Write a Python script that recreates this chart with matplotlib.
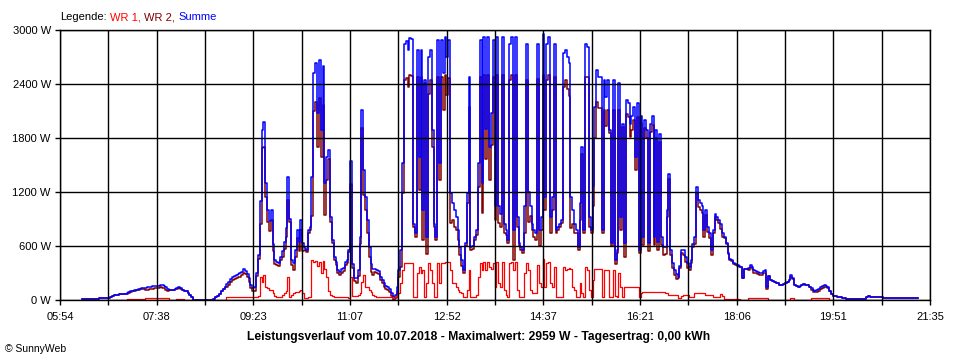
import numpy as np
import matplotlib
matplotlib.use("Agg")
from matplotlib import pyplot as plt

# samples every 2 minutes, starting 06:18 (minutes since midnight)
t_start = 378
t_step = 2

# WR 1 (W)
wr1 = [
    0, 0, 0, 0, 0, 0, 0, 0, 0, 0, 0, 0, 0, 0, 0,
    0, 0, 0, 0, 0, 0, 0, 0, 0, 8, 8, 8, 8, 8, 8,
    8, 8, 8, 8, 25, 25, 25, 25, 25, 25, 25, 25, 25, 25, 25,
    25, 25, 0, 0, 0, 0, 8, 8, 8, 8, 0, 0, 0, 0, 0,
    0, 0, 0, 0, 0, 0, 0, 0, 0, 0, 0, 0, 0, 0, 0,
    0, 0, 0, 35, 35, 35, 35, 35, 35, 35, 35, 35, 35, 35, 35,
    35, 35, 35, 35, 35, 40, 260, 200, 280, 150, 130, 110, 110, 80, 50,
    35, 35, 35, 60, 80, 100, 255, 35, 60, 80, 85, 90, 100, 110, 80,
    20, 20, 30, 35, 440, 420, 430, 380, 420, 300, 430, 350, 255, 100, 55,
    40, 35, 35, 35, 35, 35, 35, 35, 35, 25, 255, 40, 40, 50, 60,
    80, 200, 280, 150, 145, 110, 90, 60, 40, 35, 35, 35, 35, 35, 35,
    35, 35, 35, 35, 35, 60, 75, 185, 330, 410, 410, 410, 410, 410, 35,
    35, 300, 370, 300, 330, 35, 185, 410, 330, 185, 35, 35, 410, 185, 410,
    410, 425, 425, 425, 330, 185, 185, 150, 110, 90, 75, 35, 35, 110, 330,
    35, 35, 35, 60, 260, 410, 330, 425, 330, 425, 370, 350, 410, 150, 425,
    185, 150, 425, 110, 60, 35, 410, 425, 330, 425, 110, 35, 35, 35, 300,
    410, 330, 110, 75, 75, 75, 390, 185, 150, 460, 150, 410, 425, 185, 150,
    370, 35, 35, 35, 35, 370, 330, 350, 360, 350, 150, 110, 35, 35, 185,
    75, 35, 370, 330, 110, 35, 220, 350, 350, 350, 350, 35, 330, 330, 330,
    35, 35, 330, 50, 35, 300, 150, 35, 150, 150, 150, 150, 150, 150, 150,
    150, 35, 75, 90, 90, 90, 90, 90, 90, 90, 90, 90, 90, 90, 90,
    75, 75, 55, 55, 55, 55, 55, 20, 20, 40, 55, 55, 55, 35, 35,
    35, 75, 75, 75, 75, 75, 75, 55, 55, 55, 55, 35, 35, 35, 35,
    65, 40, 10, 10, 10, 10, 10, 10, 10, 10, 10, 0, 0, 0, 0,
    25, 25, 25, 25, 25, 25, 25, 25, 25, 25, 25, 0, 0, 0, 0,
    0, 0, 0, 0, 0, 0, 0, 0, 20, 20, 0, 0, 0, 0, 0,
    0, 0, 0, 0, 20, 20, 20, 20, 20, 20, 20, 20, 20, 20, 0,
    0, 0, 0, 0, 0, 0, 0, 0, 0, 0, 0, 0, 0, 0, 0,
    0, 0, 0, 0, 0, 0, 0, 0, 0, 0, 0, 0, 0, 0, 0,
    0, 0, 0, 0, 0, 0, 0, 0, 0, 0, 0, 0, 0, 0, 0,
    0, 0, 0,
]

# WR 2 (W)
wr2 = [
    10, 10, 10, 10, 12, 12, 15, 15, 15, 18, 18, 20, 20, 22, 25,
    35, 45, 55, 58, 60, 62, 65, 68, 72, 72, 77, 87, 97, 102, 107,
    112, 117, 120, 124, 111, 115, 118, 123, 127, 130, 133, 135, 140, 138, 135,
    115, 95, 112, 108, 115, 125, 127, 132, 124, 107, 100, 95, 80, 55, 30,
    0, 0, 0, 0, 0, 0, 0, 0, 0, 0, 0, 15, 35, 50, 70,
    95, 120, 150, 140, 170, 200, 225, 235, 245, 253, 260, 275, 305, 285, 255,
    205, 135, 100, 105, 265, 460, 840, 1690, 1700, 1150, 870, 770, 890, 540, 400,
    390, 375, 445, 480, 570, 700, 1115, 865, 385, 330, 475, 690, 540, 780, 550,
    555, 535, 750, 780, 930, 2100, 2200, 1695, 2250, 1590, 2170, 950, 1335, 1570, 870,
    630, 445, 385, 295, 280, 305, 320, 385, 410, 530, 1285, 360, 210, 190, 270,
    620, 1910, 1165, 1000, 745, 480, 310, 280, 310, 300, 285, 225, 185, 150, 125,
    115, 85, 45, 2, 25, 90, 255, 370, 1190, 2440, 2470, 2370, 2500, 2490, 815,
    705, 2480, 1220, 2480, 670, 2410, 515, 2290, 2450, 1705, 815, 665, 2480, 1335, 2480,
    2110, 2500, 2275, 2465, 855, 890, 815, 775, 670, 500, 375, 295, 595, 1075, 2150,
    555, 565, 665, 720, 1260, 2480, 970, 2500, 1570, 2500, 1330, 1725, 2480, 890, 2500,
    855, 810, 2500, 740, 720, 635, 2440, 2500, 450, 2500, 815, 595, 555, 520, 740,
    2440, 870, 930, 775, 705, 665, 2460, 595, 775, 2500, 1000, 2440, 2500, 740, 1000,
    2480, 745, 780, 815, 855, 2370, 2450, 2350, 2270, 800, 850, 740, 745, 555, 890,
    1625, 745, 2480, 2480, 815, 745, 1050, 1800, 2205, 2130, 2130, 745, 2115, 1930, 2115,
    1855, 595, 2115, 395, 520, 2110, 775, 1925, 480, 2070, 2035, 1810, 1890, 2000, 1440,
    2035, 520, 1965, 610, 1910, 1800, 540, 1870, 1950, 610, 1800, 560, 1760, 610, 500,
    515, 925, 1345, 500, 355, 275, 235, 240, 360, 520, 500, 425, 355, 335, 410,
    585, 625, 1185, 1035, 1000, 965, 705, 945, 760, 685, 500, 745, 925, 890, 855,
    785, 700, 690, 620, 510, 450, 430, 400, 390, 380, 370, 370, 250, 340, 350,
    335, 365, 345, 305, 295, 290, 275, 275, 295, 305, 125, 270, 220, 210, 205,
    190, 185, 170, 165, 180, 190, 200, 220, 260, 230, 165, 155, 150, 160, 165,
    175, 170, 165, 150, 110, 90, 85, 88, 105, 120, 135, 145, 140, 130, 95,
    70, 50, 40, 37, 37, 35, 25, 18, 15, 12, 11, 11, 11, 11, 11,
    11, 11, 11, 11, 30, 44, 37, 37, 37, 37, 37, 37, 37, 26, 26,
    26, 26, 26, 26, 26, 26, 26, 26, 26, 26, 26, 26, 26, 26, 26,
    26, 26, 26,
]

x_ticklabels = ["05:54", "07:38", "09:23", "11:07", "12:52",
                "14:37", "16:21", "18:06", "19:51", "21:35"]
y_ticks = [0, 600, 1200, 1800, 2400, 3000]

wr1 = np.array(wr1)
wr2 = np.array(wr2)
summe = wr1 + wr2
t = t_start + t_step * np.arange(len(wr1))

plt.rcParams['font.family'] = ['Liberation Sans', 'DejaVu Sans']
plt.rcParams['font.size'] = 8

fig = plt.figure(figsize=(9.6, 3.6), dpi=100)
ax = fig.add_axes([60 / 960, 60 / 360, 870 / 960, 270 / 360])

# dark red first, blue drawn over it, red on top
ax.plot(t, wr2, color='#800000', lw=1.1, drawstyle='steps-post', zorder=1.9)
ax.plot(t, summe, color='#0000ff', lw=1.1, drawstyle='steps-post', zorder=2.0)
ax.plot(t, wr1, color='#ff0000', lw=0.9, drawstyle='steps-post', zorder=2.1)

x0, x1 = 354, 1295
ax.set_xlim(x0, x1)
ax.set_ylim(0, 3000)

xt = np.linspace(x0, x1, 19)
ax.set_xticks(xt)
ax.set_xticklabels([x_ticklabels[i // 2] if i % 2 == 0 else '' for i in range(19)])
ax.set_yticks(y_ticks)
ax.set_yticklabels(['%d W' % v for v in y_ticks])

ax.set_axisbelow(False)
ax.grid(True, color='black', lw=1.0)
ax.tick_params(axis='both', length=3.6, width=1.0, color='black', labelsize=8)
ax.tick_params(axis='x', pad=5)
ax.tick_params(axis='y', pad=3)
for s in ax.spines.values():
    s.set_color('black')
    s.set_linewidth(1.0)
    s.set_zorder(3)

leg = fig.text(60 / 960, 1 - 17 / 360, 'Legende:', va='center', ha='left', fontsize=8)
a1 = plt.annotate('WR 1,', xy=(1, 0), xycoords=leg, xytext=(2.5, 0),
                  textcoords='offset points', va='bottom', ha='left', color='#ff0000', fontsize=8)
a2 = plt.annotate('WR 2,', xy=(1, 0), xycoords=a1, xytext=(2.5, 0),
                  textcoords='offset points', va='bottom', ha='left', color='#800000', fontsize=8)
plt.annotate('Summe', xy=(1, 0), xycoords=a2, xytext=(2.5, 0),
             textcoords='offset points', va='bottom', ha='left', color='#0000ff', fontsize=8)

fig.text(479 / 960, 1 - 337 / 360,
         'Leistungsverlauf vom 10.07.2018 - Maximalwert: 2959 W - Tagesertrag: 0,00 kWh',
         ha='center', va='center', fontsize=8.7, fontweight='bold')
fig.text(5 / 960, 1 - 349 / 360, '\u00a9 SunnyWeb', ha='left', va='center', fontsize=7.5)

fig.savefig('out.png', dpi=100, facecolor='white')
